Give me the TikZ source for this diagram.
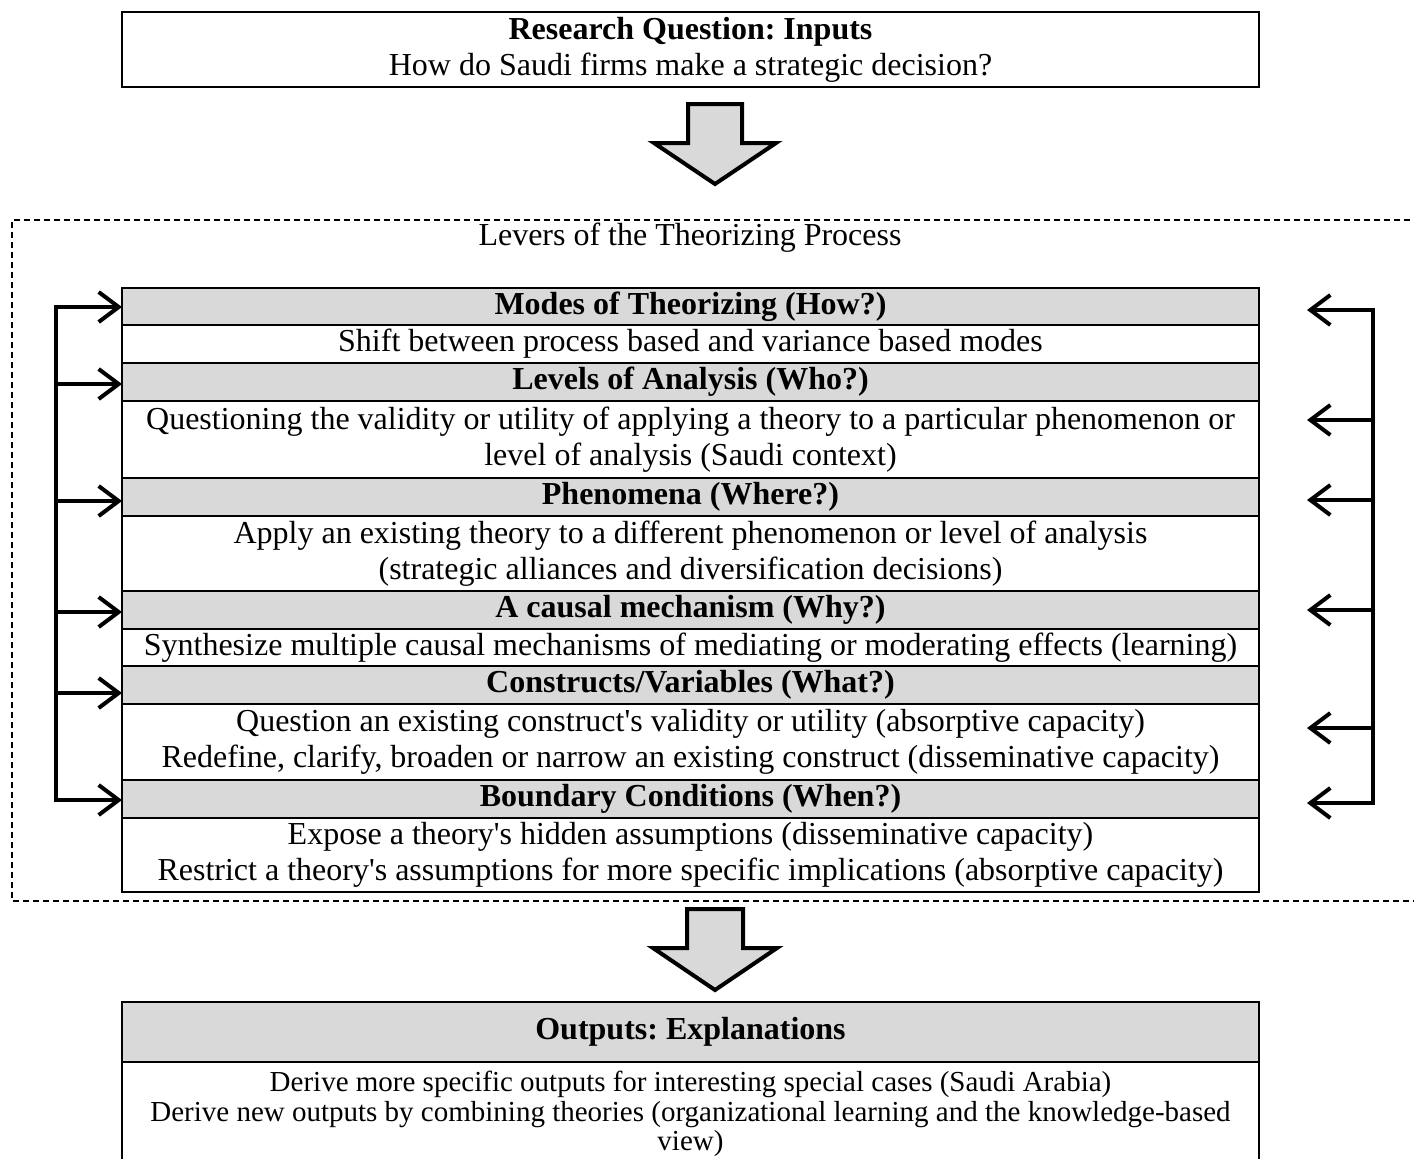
\documentclass[tikz,border=0pt]{standalone}
\usepackage{fontspec}
\setmainfont{Liberation Serif}
\usetikzlibrary{arrows.meta}
\definecolor{cellgray}{HTML}{D9D9D9}
\newcommand\apos{\textquotesingle}
\frenchspacing
\begin{document}
\begin{tikzpicture}[x=0.5pt,y=-0.5pt,
  every node/.style={inner sep=0pt, outer sep=0pt, align=center,
    font=\fontsize{16}{18}\selectfont},
  cell/.style={draw, line width=1pt, minimum width=568.5pt, anchor=north},
  head/.style={cell, fill=cellgray, font=\fontsize{16}{18}\selectfont\bfseries},
  body/.style={cell, fill=white},
  lever/.style={line width=2pt, -{Straight Barb[length=10pt,width=15pt]}},
  trunk/.style={line width=2pt, line cap=rect},
  blockarrow/.style={draw, line width=2pt, fill=cellgray, line join=miter},
  frame/.style={line width=0.8pt, dash pattern=on 3pt off 2pt}]
\useasboundingbox (0,0) rectangle (1414,1158);

% research question
\node[cell, minimum height=37.5pt] (rq) at (690.5,12)
  {\textbf{Research Question: Inputs}\\How do Saudi firms make a strategic decision?};

% block arrow into the levers
\draw[blockarrow, shift={(715,104)}]
  (-27,0) -- (27,0) -- (27,39) -- (61,39) -- (0,80) -- (-61,39) -- (-27,39) -- cycle;

% dashed frame of the theorizing process
\draw[frame] (1420,220) -- (12,220) -- (12,901) -- (1420,901);
\node (lev) at (690,238) {Levers of the Theorizing Process};

% table of levers
\node[head, minimum height=18.5pt] (h1) at (690.5,288) {Modes of Theorizing (How?)};
\node[body, minimum height=19pt] (r1) at (h1.south)
  {Shift between process based and variance based modes};
\node[head, minimum height=19pt] (h2) at (r1.south) {Levels of Analysis (Who?)};
\node[body, minimum height=38.5pt] (r2) at (h2.south)
  {Questioning the validity or utility of applying a theory to a particular phenomenon or\\
   level of analysis (Saudi context)};
\node[head, minimum height=19pt] (h3) at (r2.south) {Phenomena (Where?)};
\node[body, minimum height=37.5pt] (r3) at (h3.south)
  {Apply an existing theory to a different phenomenon or level of analysis\\
   (strategic alliances and diversification decisions)};
\node[head, minimum height=19pt] (h4) at (r3.south) {A causal mechanism (Why?)};
\node[body, minimum height=18.5pt] (r4) at (h4.south)
  {Synthesize multiple causal mechanisms of mediating or moderating effects (learning)};
\node[head, minimum height=19pt] (h5) at (r4.south) {Constructs/Variables (What?)};
\node[body, minimum height=38pt] (r5) at (h5.south)
  {Question an existing construct\apos s validity or utility (absorptive capacity)\\
   Redefine, clarify, broaden or narrow an existing construct (disseminative capacity)};
\node[head, minimum height=19pt] (h6) at (r5.south) {Boundary Conditions (When?)};
\node[body, minimum height=37pt] (r6) at (h6.south)
  {Expose a theory\apos s hidden assumptions (disseminative capacity)\\
   Restrict a theory\apos s assumptions for more specific implications (absorptive capacity)};

% left feedback lever
\coordinate (L1) at (56,307);
\coordinate (L2) at (56,384);
\coordinate (L3) at (56,501);
\coordinate (L4) at (56,612);
\coordinate (L5) at (56,693);
\coordinate (L6) at (56,800);
\draw[trunk] (L1) -- (L6);
\draw[lever] (L1) -- (L1 -| h1.west);
\draw[lever] (L2) -- (L2 -| h2.west);
\draw[lever] (L3) -- (L3 -| h3.west);
\draw[lever] (L4) -- (L4 -| h4.west);
\draw[lever] (L5) -- (L5 -| h5.west);
\draw[lever] (L6) -- (L6 -| h6.west);

% right feedback lever
\coordinate (R1) at (1373,310);
\coordinate (R2) at (1373,420);
\coordinate (R3) at (1373,500);
\coordinate (R4) at (1373,610);
\coordinate (R5) at (1373,728);
\coordinate (R6) at (1373,803);
\coordinate (tip) at (1307,0);
\draw[trunk] (R1) -- (R6);
\draw[lever] (R1) -- (R1 -| tip);
\draw[lever] (R2) -- (R2 -| tip);
\draw[lever] (R3) -- (R3 -| tip);
\draw[lever] (R4) -- (R4 -| tip);
\draw[lever] (R5) -- (R5 -| tip);
\draw[lever] (R6) -- (R6 -| tip);

% block arrow to the outputs
\draw[blockarrow, shift={(715,909)}]
  (-28,0) -- (28,0) -- (28,39) -- (62,39) -- (0,81) -- (-62,39) -- (-28,39) -- cycle;

% outputs
\node[head, minimum height=30pt] (oh) at (690.5,1002)
  {\raisebox{3.5pt}{Outputs: Explanations}};
\node[body, minimum height=52pt, font=\fontsize{14.5}{14.8}\selectfont] (ob) at (oh.south)
  {Derive more specific outputs for interesting special cases (Saudi Arabia)\\
   Derive new outputs by combining theories (organizational learning and the knowledge-based\\
   view)};
\end{tikzpicture}
\end{document}
